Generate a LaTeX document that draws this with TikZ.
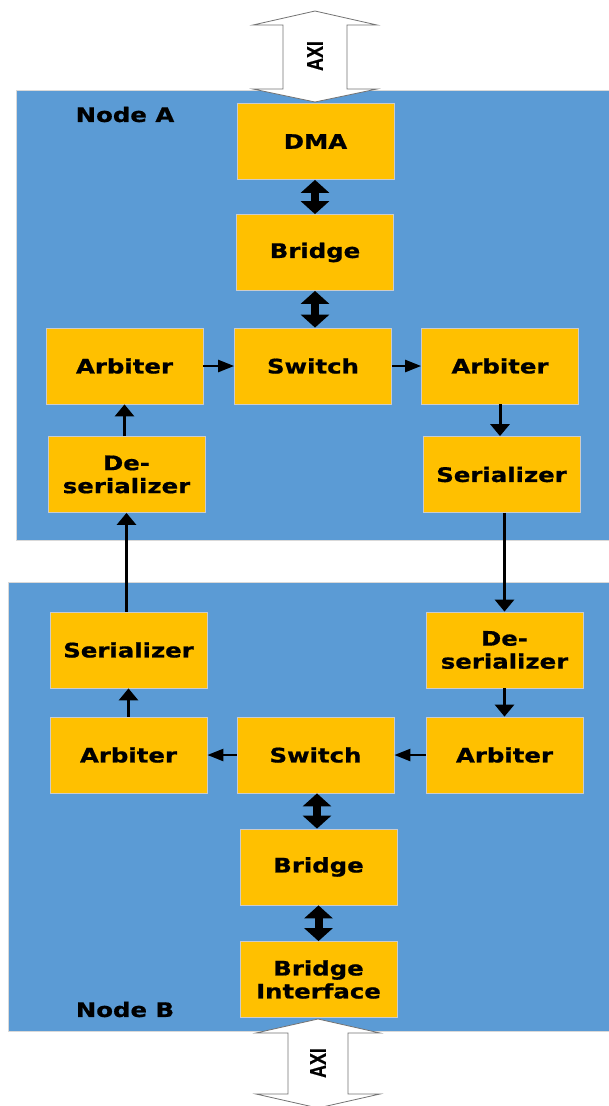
\documentclass[tikz,border=0pt]{standalone}
\usepackage{fontspec}
\setmainfont{DejaVu Sans}[FakeStretch=1.22,BoldFeatures={FakeBold=0.8}]
\newfontfamily\axifont{Liberation Sans}[BoldFeatures={FakeBold=0.8}]
\usetikzlibrary{arrows.meta}
\definecolor{panelblue}{HTML}{5B9BD5}
\definecolor{blockgold}{HTML}{FFC000}
\def\PanelA{(16,90) rectangle (609,540)}
\def\PanelB{(8,582) rectangle (609,1031)}
\def\AxiTop{(315,11) -- (377,25) -- (347,25) -- (347,89) -- (377,89) -- (315,102) -- (253,89) -- (283,89) -- (283,25) -- (253,25) -- cycle}
\def\AxiBot{(318,1019) -- (380,1033) -- (348,1033) -- (348,1094) -- (380,1094) -- (318,1108) -- (256,1094) -- (288,1094) -- (288,1033) -- (256,1033) -- cycle}
\tikzset{
  block/.style={fill=blockgold,draw=black!20,line width=0.8pt,minimum width=157pt,minimum height=76pt,
    inner sep=0pt,align=center,font=\bfseries\fontsize{20}{23}\selectfont},
  tag/.style={font=\bfseries\fontsize{20}{23}\selectfont},
  vflow/.style={-{Triangle[length=12pt,width=19pt]},line width=3pt},
  hflow/.style={-{Triangle[length=16pt,width=12pt]},line width=2.5pt},
  bus/.style={{Triangle[length=13pt,width=28pt]}-{Triangle[length=13pt,width=28pt]},line width=8pt},
  axiarrow/.style={fill=white,draw=black!55,line width=0.8pt},
  axitext/.style={rotate=90,font=\axifont\bfseries\fontsize{17}{19}\selectfont}
}

\begin{document}
\begin{tikzpicture}[x=1pt,y=-1pt]
    \useasboundingbox (0,0) rectangle (609,1106);
    % node panels
    \fill[panelblue,draw=black!15] \PanelA;
    \fill[panelblue,draw=black!15] \PanelB;
    \node[tag] (tagA) at (125,114.5) {Node A};
    \node[tag] (tagB) at (125,1009.5) {Node B};

    % node A
    \node[block] (dma) at (315.5,141.5) {DMA};
    \node[block] (brA) at (315,252.5) {Bridge};
    \node[block] (arbLA) at (124.5,366) {Arbiter};
    \node[block] (swA) at (313,366) {Switch};
    \node[block] (arbRA) at (500,366) {Arbiter};
    \node[block] (desLA) at (126.5,474.5) {De-\\serializer};
    \node[block] (serRA) at (501.5,474.5) {Serializer};

    % node B
    \node[block] (serLB) at (128.5,650) {Serializer};
    \node[block] (desRB) at (504.5,650) {De-\\serializer};
    \node[block] (arbLB) at (128.5,755) {Arbiter};
    \node[block] (swB) at (315.5,755) {Switch};
    \node[block] (arbRB) at (504.5,755) {Arbiter};
    \node[block] (brB) at (318.5,867) {Bridge};
    \node[block] (bif) at (318.5,979.5) {Bridge\\Interface};

    % AXI ports
    \draw[axiarrow] \AxiTop;
    \draw[axiarrow] \AxiBot;
    \node[axitext] (axiA) at (315,56) {\scalebox{1.05}[1.35]{AXI}};
    \node[axitext] (axiB) at (318,1063) {\scalebox{1.05}[1.35]{AXI}};

    % links
    \draw[bus] (dma.south -| 315,0) -- (brA.north -| 315,0);
    \draw[bus] (brA.south -| 315,0) -- (swA.north -| 315,0);
    \draw[hflow] (arbLA) -- (swA);
    \draw[hflow] (swA) -- (arbRA);
    \draw[vflow] (arbRA.south) -- (arbRA.south |- serRA.north);
    \draw[vflow] (desLA.north -| arbLA.south) -- (arbLA.south);
    \draw[vflow] (serRA.south -| desRB.north) -- (desRB.north);
    \draw[vflow] (serLB.north -| desLA.south) -- (desLA.south);
    \draw[vflow] (desRB.south) -- (desRB.south |- arbRB.north);
    \draw[vflow] (arbLB.north) -- (arbLB.north |- serLB.south);
    \draw[hflow] (arbRB) -- (swB);
    \draw[hflow] (swB) -- (arbLB);
    \draw[bus] (swB.south -| 317,0) -- (brB.north -| 317,0);
    \draw[bus] (brB.south) -- (bif.north);
\end{tikzpicture}
\end{document}
